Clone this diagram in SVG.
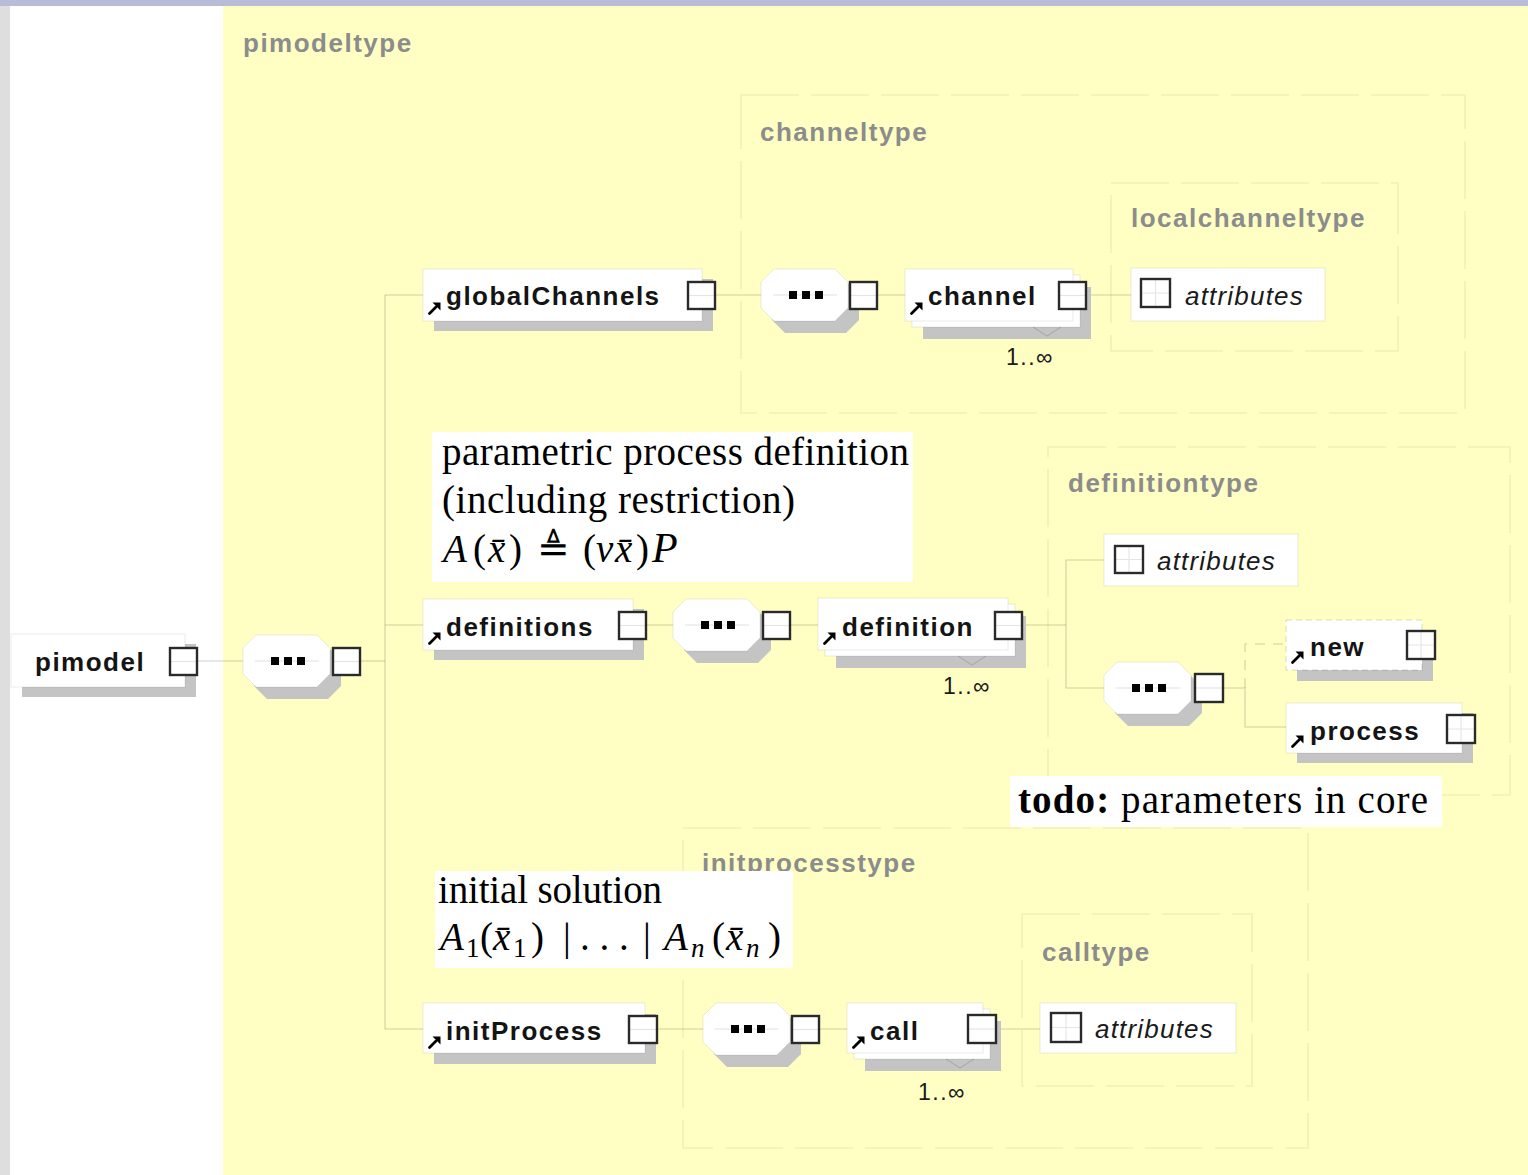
<svg xmlns="http://www.w3.org/2000/svg" xmlns:xlink="http://www.w3.org/1999/xlink" width="1528" height="1175" viewBox="0 0 1528 1175">
<style>
.node{fill:#fff;stroke:#000;stroke-opacity:.08;stroke-width:1}
.shadow{fill:#c4c4c4}
.box{fill:#fff;stroke:#2a2a2a;stroke-width:2.4}
.inl{stroke:#000;stroke-opacity:.1;stroke-width:1.2;fill:none}
.lbl{font-family:"Liberation Sans",Arial,sans-serif;font-weight:bold;font-size:26px;letter-spacing:1.5px;fill:#141414}
.attr{font-family:"Liberation Sans",Arial,sans-serif;font-style:italic;font-size:26px;letter-spacing:1.2px;fill:#1a1a1a}
.type{font-family:"Liberation Sans",Arial,sans-serif;font-weight:bold;font-size:26px;letter-spacing:1.5px;fill:#8c8c8c}
.mult{font-family:"Liberation Sans",Arial,sans-serif;font-size:23px;letter-spacing:1.5px;fill:#1a1a1a}
.conn{stroke:#000;stroke-opacity:.13;stroke-width:1.6;fill:none}
.dbox{fill:none;stroke:#000;stroke-opacity:.06;stroke-width:1.6;stroke-dasharray:58 12}
.note{fill:#fff}
.serif{font-family:"Liberation Serif","Times New Roman",serif;font-size:39px;fill:#000}
.mi{font-style:italic}
.notch{fill:none;stroke:#000;stroke-opacity:.12;stroke-width:1.2}
</style>
<defs>
<g id="seq">
<polygon points="24,12 85,12 98,25 98,51 85,64 24,64 11,51 11,25" fill="#c4c4c4"/>
<polygon points="13,0 74,0 87,13 87,39 74,52 13,52 0,39 0,13" fill="#fff" stroke="#000" stroke-opacity=".08"/>
<line x1="12" y1="26" x2="76" y2="26" stroke="#000" stroke-opacity=".12" stroke-width="1.2"/>
<rect x="28" y="22" width="8" height="8" fill="#000"/>
<rect x="41" y="22" width="8" height="8" fill="#000"/>
<rect x="54" y="22" width="8" height="8" fill="#000"/>
</g>
<g id="ref">
<path d="M1.5,12.5 L8,6" stroke="#000" stroke-width="2.8" stroke-linecap="round"/>
<polygon points="12.5,1.5 12.5,9.5 4.5,1.5" fill="#000"/>
</g>
</defs>

<!-- background -->
<rect x="0" y="0" width="1528" height="1175" fill="#fff"/>
<rect x="0" y="0" width="10" height="1175" fill="#dedede"/>
<rect x="223" y="6" width="1305" height="1169" fill="#ffffc3"/>
<rect x="0" y="0" width="1528" height="6" fill="#b9bcd9"/>

<!-- type containers -->
<g id="types">
<text class="type" x="243" y="52">pimodeltype</text>
<rect class="dbox" x="741" y="95" width="724" height="318"/>
<text class="type" x="760" y="141">channeltype</text>
<rect class="dbox" x="1111" y="183" width="287" height="168"/>
<text class="type" x="1131" y="227">localchanneltype</text>
<rect class="dbox" x="1048" y="447" width="462" height="348"/>
<text class="type" x="1068" y="492">definitiontype</text>
<rect class="dbox" x="683" y="828" width="625" height="320"/>
<text class="type" x="702" y="872">initprocesstype</text>
<rect class="dbox" x="1022" y="914" width="230" height="172"/>
<text class="type" x="1042" y="961">calltype</text>
</g>

<!-- connectors -->
<g id="connectors">
<path class="conn" d="M197,661 H243"/>
<path class="conn" d="M360,661 H385"/>
<path class="conn" d="M385,295 V1029"/>
<path class="conn" d="M385,295 H423 M385,625 H423 M385,1029 H423"/>
<path class="conn" d="M715,295 H761 M877,295 H905 M1086,295 H1131"/>
<path class="conn" d="M647,625 H673 M790,625 H818 M1022,625 H1066"/>
<path class="conn" d="M1066,560 V688 M1066,560 H1104 M1066,688 H1104"/>
<path class="conn" d="M1223,688 H1245 V727 H1286"/>
<path class="conn" d="M1245,688 V644 H1286" stroke-dasharray="10 8"/>
<path class="conn" d="M657,1029 H703 M819,1029 H847 M996,1029 H1040"/>
</g>

<!-- pimodel -->
<g id="pimodel">
<rect class="shadow" x="22" y="644" width="174" height="53"/>
<rect class="node" x="11" y="634" width="174" height="53"/>
<text class="lbl" x="35" y="671">pimodel</text>
<rect class="box" x="170" y="648" width="27" height="27"/>
<line class="inl" x1="171" y1="661.5" x2="196" y2="661.5"/>
</g>

<g id="seq1">
<use xlink:href="#seq" x="243" y="635"/>
<rect class="box" x="333" y="648" width="27" height="27"/>
<line class="inl" x1="334" y1="661.5" x2="359" y2="661.5"/>
</g>

<!-- globalChannels -->
<g id="globalChannels">
<rect class="shadow" x="434" y="279" width="279" height="52"/>
<rect class="node" x="423" y="269" width="279" height="52"/>
<use xlink:href="#ref" x="428" y="301"/>
<text class="lbl" x="446" y="305">globalChannels</text>
<rect class="box" x="688" y="282" width="27" height="27"/>
<line class="inl" x1="689" y1="295.5" x2="714" y2="295.5"/>
</g>

<g id="seq2">
<use xlink:href="#seq" x="761" y="269"/>
<rect class="box" x="850" y="282" width="27" height="27"/>
<line class="inl" x1="851" y1="295.5" x2="876" y2="295.5"/>
</g>

<g id="channel">
<rect class="shadow" x="923" y="287" width="168" height="52"/>
<rect class="node" x="912" y="275" width="168" height="52"/>
<rect class="node" x="905" y="269" width="168" height="52"/>
<polyline class="notch" points="1033,327 1047,336 1061,327"/>
<use xlink:href="#ref" x="910" y="301"/>
<text class="lbl" x="928" y="305">channel</text>
<rect class="box" x="1059" y="282" width="27" height="27"/>
<line class="inl" x1="1060" y1="295.5" x2="1085" y2="295.5"/>
<text class="mult" x="1006" y="365">1..∞</text>
</g>

<g id="channelAttributes">
<rect class="node" x="1131" y="268" width="194" height="53" stroke-opacity=".1"/>
<rect class="box" x="1141" y="279" width="29" height="28"/>
<path class="inl" d="M1142,293 H1169 M1155.5,280 V306"/>
<text class="attr" x="1185" y="305">attributes</text>
</g>

<!-- definitions -->
<g id="definitions">
<rect class="shadow" x="434" y="609" width="210" height="51"/>
<rect class="node" x="423" y="599" width="210" height="51"/>
<use xlink:href="#ref" x="428" y="631"/>
<text class="lbl" x="446" y="636">definitions</text>
<rect class="box" x="619" y="612" width="27" height="27"/>
<line class="inl" x1="620" y1="625.5" x2="645" y2="625.5"/>
</g>

<g id="seq3">
<use xlink:href="#seq" x="673" y="599"/>
<rect class="box" x="763" y="612" width="27" height="27"/>
<line class="inl" x1="764" y1="625.5" x2="789" y2="625.5"/>
</g>

<g id="definition">
<rect class="shadow" x="836" y="616" width="190" height="52"/>
<rect class="node" x="825" y="604" width="190" height="52"/>
<rect class="node" x="818" y="598" width="190" height="52"/>
<polyline class="notch" points="958,656 972,665 986,656"/>
<use xlink:href="#ref" x="823" y="631"/>
<text class="lbl" x="842" y="636">definition</text>
<rect class="box" x="995" y="612" width="27" height="27"/>
<line class="inl" x1="996" y1="625.5" x2="1021" y2="625.5"/>
<text class="mult" x="943" y="694">1..∞</text>
</g>

<g id="definitionAttributes">
<rect class="node" x="1104" y="534" width="194" height="52" stroke-opacity=".1"/>
<rect class="box" x="1115" y="546" width="28" height="27"/>
<path class="inl" d="M1116,559.5 H1142 M1129,547 V572"/>
<text class="attr" x="1157" y="570">attributes</text>
</g>

<g id="seq4">
<use xlink:href="#seq" x="1104" y="662"/>
<rect class="box" x="1195" y="674" width="28" height="28"/>
<line class="inl" x1="1196" y1="688" x2="1222" y2="688"/>
</g>

<g id="new">
<rect class="shadow" x="1297" y="631" width="136" height="50"/>
<rect x="1286" y="620" width="136" height="50" fill="#fff" stroke="#000" stroke-opacity=".15" stroke-dasharray="6 4"/>
<use xlink:href="#ref" x="1291" y="650"/>
<text class="lbl" x="1310" y="656">new</text>
<rect class="box" x="1407" y="631" width="28" height="28"/>
<path class="inl" d="M1408,645 H1434 M1421,632 V658"/>
</g>

<g id="process">
<rect class="shadow" x="1297" y="713" width="176" height="50"/>
<rect class="node" x="1286" y="703" width="176" height="50"/>
<use xlink:href="#ref" x="1291" y="734"/>
<text class="lbl" x="1310" y="740">process</text>
<rect class="box" x="1447" y="715" width="28" height="28"/>
<path class="inl" d="M1448,729 H1474 M1461,716 V742"/>
</g>

<!-- initProcess -->
<g id="initProcess">
<rect class="shadow" x="434" y="1014" width="222" height="50"/>
<rect class="node" x="423" y="1003" width="222" height="50"/>
<use xlink:href="#ref" x="428" y="1035"/>
<text class="lbl" x="446" y="1040">initProcess</text>
<rect class="box" x="629" y="1016" width="28" height="27"/>
<line class="inl" x1="630" y1="1029.5" x2="656" y2="1029.5"/>
</g>

<g id="seq5">
<use xlink:href="#seq" x="703" y="1003"/>
<rect class="box" x="792" y="1016" width="27" height="27"/>
<line class="inl" x1="793" y1="1029.5" x2="818" y2="1029.5"/>
</g>

<g id="call">
<rect class="shadow" x="865" y="1021" width="136" height="50"/>
<rect class="node" x="854" y="1009" width="136" height="50"/>
<rect class="node" x="847" y="1003" width="136" height="50"/>
<polyline class="notch" points="946,1059 960,1068 974,1059"/>
<use xlink:href="#ref" x="852" y="1035"/>
<text class="lbl" x="870" y="1040">call</text>
<rect class="box" x="968" y="1015" width="28" height="28"/>
<line class="inl" x1="969" y1="1029" x2="995" y2="1029"/>
<text class="mult" x="918" y="1100">1..∞</text>
</g>

<g id="callAttributes">
<rect class="node" x="1040" y="1003" width="196" height="50" stroke-opacity=".1"/>
<rect class="box" x="1051" y="1013" width="30" height="29"/>
<path class="inl" d="M1052,1027.5 H1080 M1066,1014 V1041"/>
<text class="attr" x="1095" y="1038">attributes</text>
</g>

<!-- annotations -->
<g id="note1">
<rect class="note" x="432" y="432" width="481" height="150"/>
<text class="serif" x="442" y="465" textLength="467" lengthAdjust="spacing">parametric process definition</text>
<text class="serif" x="442" y="513" textLength="353" lengthAdjust="spacing">(including restriction)</text>
<text class="serif" y="562"><tspan class="mi" x="443">A</tspan><tspan x="473">(</tspan><tspan class="mi" x="488">x̄</tspan><tspan x="509">)</tspan><tspan x="537">≜</tspan><tspan x="583">(</tspan><tspan class="mi" x="596">ν</tspan><tspan class="mi" x="615">x̄</tspan><tspan x="636">)</tspan><tspan class="mi" x="652" font-size="42">P</tspan></text>
</g>

<g id="note2">
<rect class="note" x="435" y="871" width="358" height="97"/>
<text class="serif" x="438" y="903" textLength="224" lengthAdjust="spacing">initial solution</text>
<text class="serif" y="950"><tspan class="mi" x="440">A</tspan><tspan x="466" dy="7" font-size="27">1</tspan><tspan x="480" dy="-7">(</tspan><tspan class="mi" x="493">x̄</tspan><tspan x="513" dy="7" font-size="27">1</tspan><tspan x="531" dy="-7">)</tspan><tspan x="563">|</tspan><tspan x="580">. . .</tspan><tspan x="643">|</tspan><tspan class="mi" x="664">A</tspan><tspan class="mi" x="691" dy="7" font-size="27">n</tspan><tspan x="712" dy="-7">(</tspan><tspan class="mi" x="726">x̄</tspan><tspan class="mi" x="746" dy="7" font-size="27">n</tspan><tspan x="768" dy="-7">)</tspan></text>
</g>

<g id="note3">
<rect class="note" x="1010" y="776" width="432" height="51"/>
<text class="serif" x="1018" y="813" textLength="410" lengthAdjust="spacing"><tspan font-weight="bold">todo:</tspan> parameters in core</text>
</g>
</svg>
